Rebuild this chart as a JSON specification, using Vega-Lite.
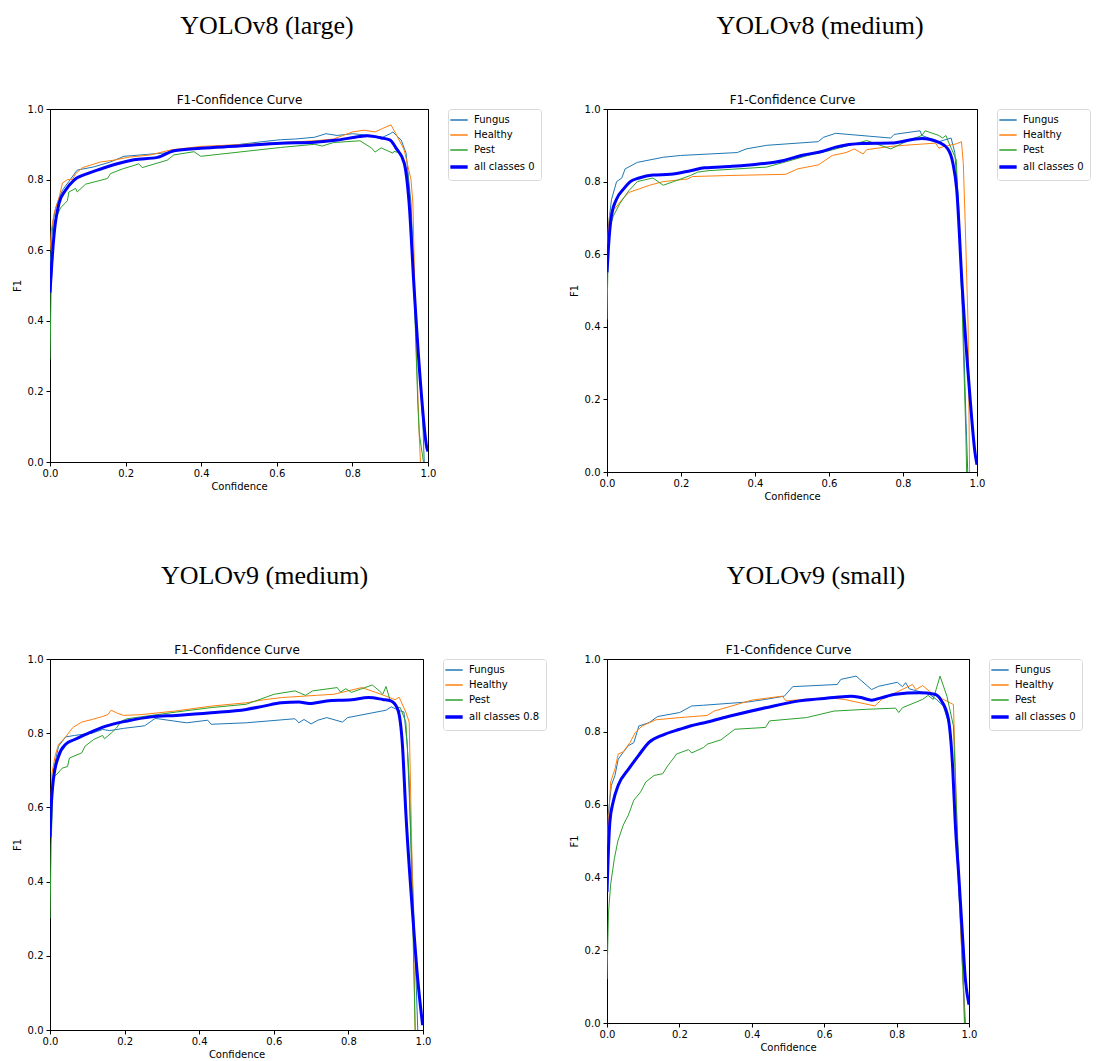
{
  "$schema": "https://vega.github.io/schema/vega-lite/v6.json",
  "background": "white",
  "padding": {"left": 11, "top": 12, "right": 0, "bottom": 0},
  "columns": 2,
  "spacing": {"row": 60, "column": 21},
  "resolve": {"scale": {"color": "independent"}},
  "datasets": {
    "a": [
      {"s":"Fungus","x":0,"y":0.55},{"s":"Fungus","x":0.004,"y":0.62},{"s":"Fungus","x":0.008,"y":0.68},{"s":"Fungus","x":0.015,"y":0.72},{"s":"Fungus","x":0.025,"y":0.75},{"s":"Fungus","x":0.033,"y":0.77},{"s":"Fungus","x":0.05,"y":0.795},{"s":"Fungus","x":0.072,"y":0.827},{"s":"Fungus","x":0.116,"y":0.836},{"s":"Fungus","x":0.16,"y":0.85},{"s":"Fungus","x":0.196,"y":0.866},{"s":"Fungus","x":0.31,"y":0.876},{"s":"Fungus","x":0.328,"y":0.884},{"s":"Fungus","x":0.45,"y":0.893},{"s":"Fungus","x":0.566,"y":0.908},{"s":"Fungus","x":0.61,"y":0.913},{"s":"Fungus","x":0.65,"y":0.915},{"s":"Fungus","x":0.7,"y":0.92},{"s":"Fungus","x":0.73,"y":0.93},{"s":"Fungus","x":0.76,"y":0.925},{"s":"Fungus","x":0.8,"y":0.93},{"s":"Fungus","x":0.85,"y":0.925},{"s":"Fungus","x":0.88,"y":0.92},{"s":"Fungus","x":0.9,"y":0.93},{"s":"Fungus","x":0.907,"y":0.935},{"s":"Fungus","x":0.929,"y":0.912},{"s":"Fungus","x":0.942,"y":0.875},{"s":"Fungus","x":0.955,"y":0.734},{"s":"Fungus","x":0.968,"y":0.4},{"s":"Fungus","x":0.986,"y":0.12},{"s":"Fungus","x":0.99,"y":0.0},
      {"s":"Healthy","x":0,"y":0.6},{"s":"Healthy","x":0.004,"y":0.66},{"s":"Healthy","x":0.011,"y":0.705},{"s":"Healthy","x":0.024,"y":0.75},{"s":"Healthy","x":0.033,"y":0.79},{"s":"Healthy","x":0.046,"y":0.8},{"s":"Healthy","x":0.059,"y":0.8},{"s":"Healthy","x":0.068,"y":0.817},{"s":"Healthy","x":0.086,"y":0.834},{"s":"Healthy","x":0.134,"y":0.85},{"s":"Healthy","x":0.169,"y":0.855},{"s":"Healthy","x":0.205,"y":0.863},{"s":"Healthy","x":0.266,"y":0.87},{"s":"Healthy","x":0.319,"y":0.884},{"s":"Healthy","x":0.399,"y":0.894},{"s":"Healthy","x":0.575,"y":0.903},{"s":"Healthy","x":0.7,"y":0.91},{"s":"Healthy","x":0.75,"y":0.915},{"s":"Healthy","x":0.8,"y":0.935},{"s":"Healthy","x":0.83,"y":0.94},{"s":"Healthy","x":0.86,"y":0.935},{"s":"Healthy","x":0.88,"y":0.945},{"s":"Healthy","x":0.902,"y":0.955},{"s":"Healthy","x":0.915,"y":0.93},{"s":"Healthy","x":0.937,"y":0.884},{"s":"Healthy","x":0.955,"y":0.8},{"s":"Healthy","x":0.96,"y":0.734},{"s":"Healthy","x":0.968,"y":0.354},{"s":"Healthy","x":0.977,"y":0.07},{"s":"Healthy","x":0.98,"y":0.0},
      {"s":"Pest","x":0,"y":0.29},{"s":"Pest","x":0.003,"y":0.5},{"s":"Pest","x":0.006,"y":0.55},{"s":"Pest","x":0.011,"y":0.68},{"s":"Pest","x":0.028,"y":0.72},{"s":"Pest","x":0.046,"y":0.74},{"s":"Pest","x":0.05,"y":0.765},{"s":"Pest","x":0.068,"y":0.775},{"s":"Pest","x":0.072,"y":0.765},{"s":"Pest","x":0.094,"y":0.787},{"s":"Pest","x":0.152,"y":0.803},{"s":"Pest","x":0.16,"y":0.817},{"s":"Pest","x":0.191,"y":0.83},{"s":"Pest","x":0.222,"y":0.84},{"s":"Pest","x":0.235,"y":0.845},{"s":"Pest","x":0.244,"y":0.834},{"s":"Pest","x":0.31,"y":0.855},{"s":"Pest","x":0.328,"y":0.87},{"s":"Pest","x":0.381,"y":0.879},{"s":"Pest","x":0.399,"y":0.866},{"s":"Pest","x":0.61,"y":0.891},{"s":"Pest","x":0.7,"y":0.9},{"s":"Pest","x":0.72,"y":0.895},{"s":"Pest","x":0.75,"y":0.905},{"s":"Pest","x":0.82,"y":0.91},{"s":"Pest","x":0.85,"y":0.89},{"s":"Pest","x":0.86,"y":0.878},{"s":"Pest","x":0.876,"y":0.89},{"s":"Pest","x":0.907,"y":0.875},{"s":"Pest","x":0.91,"y":0.88},{"s":"Pest","x":0.929,"y":0.875},{"s":"Pest","x":0.946,"y":0.819},{"s":"Pest","x":0.96,"y":0.59},{"s":"Pest","x":0.973,"y":0.167},{"s":"Pest","x":0.977,"y":0.08},{"s":"Pest","x":0.988,"y":0.0},
      {"s":"all classes 0.92 at 0.828","x":0,"y":0.48},{"s":"all classes 0.92 at 0.828","x":0.004,"y":0.55},{"s":"all classes 0.92 at 0.828","x":0.011,"y":0.647},{"s":"all classes 0.92 at 0.828","x":0.024,"y":0.733},{"s":"all classes 0.92 at 0.828","x":0.041,"y":0.77},{"s":"all classes 0.92 at 0.828","x":0.063,"y":0.798},{"s":"all classes 0.92 at 0.828","x":0.099,"y":0.817},{"s":"all classes 0.92 at 0.828","x":0.134,"y":0.83},{"s":"all classes 0.92 at 0.828","x":0.178,"y":0.845},{"s":"all classes 0.92 at 0.828","x":0.222,"y":0.856},{"s":"all classes 0.92 at 0.828","x":0.284,"y":0.863},{"s":"all classes 0.92 at 0.828","x":0.328,"y":0.882},{"s":"all classes 0.92 at 0.828","x":0.399,"y":0.889},{"s":"all classes 0.92 at 0.828","x":0.5,"y":0.895},{"s":"all classes 0.92 at 0.828","x":0.61,"y":0.903},{"s":"all classes 0.92 at 0.828","x":0.7,"y":0.906},{"s":"all classes 0.92 at 0.828","x":0.76,"y":0.912},{"s":"all classes 0.92 at 0.828","x":0.82,"y":0.922},{"s":"all classes 0.92 at 0.828","x":0.84,"y":0.924},{"s":"all classes 0.92 at 0.828","x":0.876,"y":0.918},{"s":"all classes 0.92 at 0.828","x":0.9,"y":0.912},{"s":"all classes 0.92 at 0.828","x":0.915,"y":0.89},{"s":"all classes 0.92 at 0.828","x":0.937,"y":0.847},{"s":"all classes 0.92 at 0.828","x":0.95,"y":0.734},{"s":"all classes 0.92 at 0.828","x":0.963,"y":0.496},{"s":"all classes 0.92 at 0.828","x":0.981,"y":0.212},{"s":"all classes 0.92 at 0.828","x":0.997,"y":0.04},{"s":"all classes 0.92 at 0.828","x":1.0,"y":0.03}
    ],
    "b": [
      {"s":"Fungus","x":0,"y":0.55},{"s":"Fungus","x":0.003,"y":0.67},{"s":"Fungus","x":0.012,"y":0.75},{"s":"Fungus","x":0.026,"y":0.8},{"s":"Fungus","x":0.04,"y":0.81},{"s":"Fungus","x":0.049,"y":0.835},{"s":"Fungus","x":0.082,"y":0.853},{"s":"Fungus","x":0.152,"y":0.867},{"s":"Fungus","x":0.199,"y":0.872},{"s":"Fungus","x":0.352,"y":0.88},{"s":"Fungus","x":0.376,"y":0.89},{"s":"Fungus","x":0.432,"y":0.9},{"s":"Fungus","x":0.571,"y":0.91},{"s":"Fungus","x":0.585,"y":0.922},{"s":"Fungus","x":0.618,"y":0.933},{"s":"Fungus","x":0.767,"y":0.92},{"s":"Fungus","x":0.776,"y":0.93},{"s":"Fungus","x":0.846,"y":0.94},{"s":"Fungus","x":0.851,"y":0.927},{"s":"Fungus","x":0.897,"y":0.91},{"s":"Fungus","x":0.93,"y":0.92},{"s":"Fungus","x":0.94,"y":0.88},{"s":"Fungus","x":0.95,"y":0.74},{"s":"Fungus","x":0.96,"y":0.5},{"s":"Fungus","x":0.97,"y":0.15},{"s":"Fungus","x":0.975,"y":0.0},
      {"s":"Healthy","x":0,"y":0.6},{"s":"Healthy","x":0.007,"y":0.71},{"s":"Healthy","x":0.021,"y":0.725},{"s":"Healthy","x":0.04,"y":0.75},{"s":"Healthy","x":0.059,"y":0.77},{"s":"Healthy","x":0.087,"y":0.78},{"s":"Healthy","x":0.115,"y":0.79},{"s":"Healthy","x":0.152,"y":0.8},{"s":"Healthy","x":0.217,"y":0.807},{"s":"Healthy","x":0.231,"y":0.814},{"s":"Healthy","x":0.338,"y":0.817},{"s":"Healthy","x":0.483,"y":0.82},{"s":"Healthy","x":0.515,"y":0.835},{"s":"Healthy","x":0.571,"y":0.846},{"s":"Healthy","x":0.609,"y":0.872},{"s":"Healthy","x":0.646,"y":0.88},{"s":"Healthy","x":0.669,"y":0.89},{"s":"Healthy","x":0.692,"y":0.876},{"s":"Healthy","x":0.702,"y":0.888},{"s":"Healthy","x":0.767,"y":0.897},{"s":"Healthy","x":0.804,"y":0.9},{"s":"Healthy","x":0.888,"y":0.906},{"s":"Healthy","x":0.897,"y":0.892},{"s":"Healthy","x":0.911,"y":0.897},{"s":"Healthy","x":0.944,"y":0.904},{"s":"Healthy","x":0.958,"y":0.91},{"s":"Healthy","x":0.963,"y":0.85},{"s":"Healthy","x":0.968,"y":0.69},{"s":"Healthy","x":0.976,"y":0.4},{"s":"Healthy","x":0.98,"y":0.0},
      {"s":"Pest","x":0,"y":0.42},{"s":"Pest","x":0.003,"y":0.6},{"s":"Pest","x":0.007,"y":0.67},{"s":"Pest","x":0.017,"y":0.705},{"s":"Pest","x":0.035,"y":0.74},{"s":"Pest","x":0.059,"y":0.775},{"s":"Pest","x":0.082,"y":0.8},{"s":"Pest","x":0.124,"y":0.81},{"s":"Pest","x":0.152,"y":0.79},{"s":"Pest","x":0.18,"y":0.8},{"s":"Pest","x":0.226,"y":0.817},{"s":"Pest","x":0.245,"y":0.826},{"s":"Pest","x":0.273,"y":0.83},{"s":"Pest","x":0.431,"y":0.84},{"s":"Pest","x":0.478,"y":0.853},{"s":"Pest","x":0.543,"y":0.872},{"s":"Pest","x":0.6,"y":0.885},{"s":"Pest","x":0.702,"y":0.913},{"s":"Pest","x":0.767,"y":0.89},{"s":"Pest","x":0.814,"y":0.913},{"s":"Pest","x":0.851,"y":0.927},{"s":"Pest","x":0.86,"y":0.94},{"s":"Pest","x":0.897,"y":0.927},{"s":"Pest","x":0.907,"y":0.92},{"s":"Pest","x":0.916,"y":0.927},{"s":"Pest","x":0.925,"y":0.904},{"s":"Pest","x":0.944,"y":0.86},{"s":"Pest","x":0.95,"y":0.72},{"s":"Pest","x":0.96,"y":0.45},{"s":"Pest","x":0.97,"y":0.1},{"s":"Pest","x":0.972,"y":0.0},
      {"s":"all classes 0.92 at 0.852","x":0,"y":0.55},{"s":"all classes 0.92 at 0.852","x":0.004,"y":0.62},{"s":"all classes 0.92 at 0.852","x":0.012,"y":0.706},{"s":"all classes 0.92 at 0.852","x":0.026,"y":0.752},{"s":"all classes 0.92 at 0.852","x":0.045,"y":0.78},{"s":"all classes 0.92 at 0.852","x":0.063,"y":0.8},{"s":"all classes 0.92 at 0.852","x":0.087,"y":0.81},{"s":"all classes 0.92 at 0.852","x":0.124,"y":0.818},{"s":"all classes 0.92 at 0.852","x":0.171,"y":0.82},{"s":"all classes 0.92 at 0.852","x":0.226,"y":0.83},{"s":"all classes 0.92 at 0.852","x":0.264,"y":0.838},{"s":"all classes 0.92 at 0.852","x":0.338,"y":0.842},{"s":"all classes 0.92 at 0.852","x":0.385,"y":0.846},{"s":"all classes 0.92 at 0.852","x":0.478,"y":0.858},{"s":"all classes 0.92 at 0.852","x":0.525,"y":0.872},{"s":"all classes 0.92 at 0.852","x":0.581,"y":0.883},{"s":"all classes 0.92 at 0.852","x":0.618,"y":0.895},{"s":"all classes 0.92 at 0.852","x":0.692,"y":0.905},{"s":"all classes 0.92 at 0.852","x":0.767,"y":0.906},{"s":"all classes 0.92 at 0.852","x":0.851,"y":0.919},{"s":"all classes 0.92 at 0.852","x":0.897,"y":0.908},{"s":"all classes 0.92 at 0.852","x":0.921,"y":0.89},{"s":"all classes 0.92 at 0.852","x":0.935,"y":0.85},{"s":"all classes 0.92 at 0.852","x":0.945,"y":0.78},{"s":"all classes 0.92 at 0.852","x":0.96,"y":0.51},{"s":"all classes 0.92 at 0.852","x":0.98,"y":0.22},{"s":"all classes 0.92 at 0.852","x":0.995,"y":0.05},{"s":"all classes 0.92 at 0.852","x":1.0,"y":0.02}
    ],
    "c": [
      {"s":"Fungus","x":0,"y":0.52},{"s":"Fungus","x":0.003,"y":0.6},{"s":"Fungus","x":0.009,"y":0.7},{"s":"Fungus","x":0.023,"y":0.765},{"s":"Fungus","x":0.042,"y":0.79},{"s":"Fungus","x":0.066,"y":0.794},{"s":"Fungus","x":0.113,"y":0.8},{"s":"Fungus","x":0.141,"y":0.81},{"s":"Fungus","x":0.16,"y":0.807},{"s":"Fungus","x":0.197,"y":0.813},{"s":"Fungus","x":0.254,"y":0.82},{"s":"Fungus","x":0.282,"y":0.84},{"s":"Fungus","x":0.366,"y":0.828},{"s":"Fungus","x":0.423,"y":0.835},{"s":"Fungus","x":0.432,"y":0.824},{"s":"Fungus","x":0.526,"y":0.828},{"s":"Fungus","x":0.657,"y":0.839},{"s":"Fungus","x":0.667,"y":0.828},{"s":"Fungus","x":0.681,"y":0.837},{"s":"Fungus","x":0.7,"y":0.825},{"s":"Fungus","x":0.718,"y":0.835},{"s":"Fungus","x":0.742,"y":0.842},{"s":"Fungus","x":0.784,"y":0.83},{"s":"Fungus","x":0.798,"y":0.842},{"s":"Fungus","x":0.901,"y":0.862},{"s":"Fungus","x":0.915,"y":0.871},{"s":"Fungus","x":0.939,"y":0.86},{"s":"Fungus","x":0.949,"y":0.857},{"s":"Fungus","x":0.958,"y":0.766},{"s":"Fungus","x":0.972,"y":0.41},{"s":"Fungus","x":0.986,"y":0.0},
      {"s":"Healthy","x":0,"y":0.54},{"s":"Healthy","x":0.005,"y":0.69},{"s":"Healthy","x":0.014,"y":0.74},{"s":"Healthy","x":0.023,"y":0.77},{"s":"Healthy","x":0.042,"y":0.79},{"s":"Healthy","x":0.061,"y":0.815},{"s":"Healthy","x":0.085,"y":0.83},{"s":"Healthy","x":0.113,"y":0.837},{"s":"Healthy","x":0.141,"y":0.845},{"s":"Healthy","x":0.155,"y":0.85},{"s":"Healthy","x":0.164,"y":0.862},{"s":"Healthy","x":0.178,"y":0.855},{"s":"Healthy","x":0.197,"y":0.848},{"s":"Healthy","x":0.244,"y":0.85},{"s":"Healthy","x":0.338,"y":0.86},{"s":"Healthy","x":0.432,"y":0.873},{"s":"Healthy","x":0.526,"y":0.882},{"s":"Healthy","x":0.573,"y":0.89},{"s":"Healthy","x":0.62,"y":0.896},{"s":"Healthy","x":0.714,"y":0.902},{"s":"Healthy","x":0.761,"y":0.905},{"s":"Healthy","x":0.836,"y":0.923},{"s":"Healthy","x":0.873,"y":0.91},{"s":"Healthy","x":0.911,"y":0.896},{"s":"Healthy","x":0.925,"y":0.89},{"s":"Healthy","x":0.936,"y":0.897},{"s":"Healthy","x":0.954,"y":0.857},{"s":"Healthy","x":0.963,"y":0.83},{"s":"Healthy","x":0.968,"y":0.586},{"s":"Healthy","x":0.975,"y":0.225},{"s":"Healthy","x":0.979,"y":0.0},
      {"s":"Pest","x":0,"y":0.3},{"s":"Pest","x":0.003,"y":0.5},{"s":"Pest","x":0.009,"y":0.68},{"s":"Pest","x":0.019,"y":0.69},{"s":"Pest","x":0.033,"y":0.706},{"s":"Pest","x":0.047,"y":0.71},{"s":"Pest","x":0.052,"y":0.733},{"s":"Pest","x":0.085,"y":0.747},{"s":"Pest","x":0.094,"y":0.765},{"s":"Pest","x":0.117,"y":0.783},{"s":"Pest","x":0.141,"y":0.794},{"s":"Pest","x":0.146,"y":0.785},{"s":"Pest","x":0.164,"y":0.8},{"s":"Pest","x":0.178,"y":0.814},{"s":"Pest","x":0.192,"y":0.833},{"s":"Pest","x":0.207,"y":0.839},{"s":"Pest","x":0.338,"y":0.857},{"s":"Pest","x":0.432,"y":0.869},{"s":"Pest","x":0.526,"y":0.878},{"s":"Pest","x":0.601,"y":0.905},{"s":"Pest","x":0.657,"y":0.914},{"s":"Pest","x":0.685,"y":0.902},{"s":"Pest","x":0.704,"y":0.914},{"s":"Pest","x":0.77,"y":0.923},{"s":"Pest","x":0.779,"y":0.911},{"s":"Pest","x":0.793,"y":0.92},{"s":"Pest","x":0.808,"y":0.91},{"s":"Pest","x":0.864,"y":0.93},{"s":"Pest","x":0.883,"y":0.914},{"s":"Pest","x":0.892,"y":0.905},{"s":"Pest","x":0.901,"y":0.926},{"s":"Pest","x":0.911,"y":0.891},{"s":"Pest","x":0.928,"y":0.87},{"s":"Pest","x":0.939,"y":0.869},{"s":"Pest","x":0.954,"y":0.83},{"s":"Pest","x":0.963,"y":0.676},{"s":"Pest","x":0.972,"y":0.316},{"s":"Pest","x":0.979,"y":0.0},
      {"s":"all classes 0.89 at 0.855","x":0,"y":0.52},{"s":"all classes 0.89 at 0.855","x":0.003,"y":0.6},{"s":"all classes 0.89 at 0.855","x":0.009,"y":0.674},{"s":"all classes 0.89 at 0.855","x":0.023,"y":0.738},{"s":"all classes 0.89 at 0.855","x":0.042,"y":0.77},{"s":"all classes 0.89 at 0.855","x":0.066,"y":0.783},{"s":"all classes 0.89 at 0.855","x":0.103,"y":0.8},{"s":"all classes 0.89 at 0.855","x":0.15,"y":0.819},{"s":"all classes 0.89 at 0.855","x":0.207,"y":0.833},{"s":"all classes 0.89 at 0.855","x":0.272,"y":0.844},{"s":"all classes 0.89 at 0.855","x":0.338,"y":0.848},{"s":"all classes 0.89 at 0.855","x":0.432,"y":0.855},{"s":"all classes 0.89 at 0.855","x":0.526,"y":0.864},{"s":"all classes 0.89 at 0.855","x":0.573,"y":0.873},{"s":"all classes 0.89 at 0.855","x":0.62,"y":0.882},{"s":"all classes 0.89 at 0.855","x":0.667,"y":0.884},{"s":"all classes 0.89 at 0.855","x":0.695,"y":0.88},{"s":"all classes 0.89 at 0.855","x":0.742,"y":0.887},{"s":"all classes 0.89 at 0.855","x":0.808,"y":0.89},{"s":"all classes 0.89 at 0.855","x":0.854,"y":0.896},{"s":"all classes 0.89 at 0.855","x":0.892,"y":0.891},{"s":"all classes 0.89 at 0.855","x":0.914,"y":0.887},{"s":"all classes 0.89 at 0.855","x":0.932,"y":0.865},{"s":"all classes 0.89 at 0.855","x":0.945,"y":0.766},{"s":"all classes 0.89 at 0.855","x":0.954,"y":0.586},{"s":"all classes 0.89 at 0.855","x":0.972,"y":0.316},{"s":"all classes 0.89 at 0.855","x":0.986,"y":0.135},{"s":"all classes 0.89 at 0.855","x":0.999,"y":0.013}
    ],
    "d": [
      {"s":"Fungus","x":0,"y":0.42},{"s":"Fungus","x":0.003,"y":0.57},{"s":"Fungus","x":0.012,"y":0.653},{"s":"Fungus","x":0.022,"y":0.68},{"s":"Fungus","x":0.031,"y":0.725},{"s":"Fungus","x":0.045,"y":0.744},{"s":"Fungus","x":0.059,"y":0.762},{"s":"Fungus","x":0.074,"y":0.77},{"s":"Fungus","x":0.088,"y":0.816},{"s":"Fungus","x":0.116,"y":0.825},{"s":"Fungus","x":0.14,"y":0.842},{"s":"Fungus","x":0.201,"y":0.853},{"s":"Fungus","x":0.234,"y":0.871},{"s":"Fungus","x":0.267,"y":0.873},{"s":"Fungus","x":0.39,"y":0.882},{"s":"Fungus","x":0.438,"y":0.889},{"s":"Fungus","x":0.49,"y":0.898},{"s":"Fungus","x":0.513,"y":0.924},{"s":"Fungus","x":0.636,"y":0.93},{"s":"Fungus","x":0.646,"y":0.944},{"s":"Fungus","x":0.688,"y":0.953},{"s":"Fungus","x":0.731,"y":0.916},{"s":"Fungus","x":0.75,"y":0.925},{"s":"Fungus","x":0.802,"y":0.936},{"s":"Fungus","x":0.816,"y":0.924},{"s":"Fungus","x":0.825,"y":0.935},{"s":"Fungus","x":0.835,"y":0.918},{"s":"Fungus","x":0.891,"y":0.903},{"s":"Fungus","x":0.91,"y":0.889},{"s":"Fungus","x":0.929,"y":0.871},{"s":"Fungus","x":0.945,"y":0.82},{"s":"Fungus","x":0.955,"y":0.7},{"s":"Fungus","x":0.97,"y":0.4},{"s":"Fungus","x":0.985,"y":0.1},{"s":"Fungus","x":0.99,"y":0.0},
      {"s":"Healthy","x":0,"y":0.45},{"s":"Healthy","x":0.004,"y":0.55},{"s":"Healthy","x":0.01,"y":0.662},{"s":"Healthy","x":0.022,"y":0.698},{"s":"Healthy","x":0.031,"y":0.739},{"s":"Healthy","x":0.045,"y":0.745},{"s":"Healthy","x":0.064,"y":0.771},{"s":"Healthy","x":0.078,"y":0.798},{"s":"Healthy","x":0.097,"y":0.816},{"s":"Healthy","x":0.135,"y":0.833},{"s":"Healthy","x":0.201,"y":0.839},{"s":"Healthy","x":0.277,"y":0.845},{"s":"Healthy","x":0.296,"y":0.857},{"s":"Healthy","x":0.4,"y":0.887},{"s":"Healthy","x":0.485,"y":0.898},{"s":"Healthy","x":0.494,"y":0.885},{"s":"Healthy","x":0.608,"y":0.894},{"s":"Healthy","x":0.655,"y":0.889},{"s":"Healthy","x":0.74,"y":0.871},{"s":"Healthy","x":0.759,"y":0.889},{"s":"Healthy","x":0.844,"y":0.93},{"s":"Healthy","x":0.853,"y":0.916},{"s":"Healthy","x":0.872,"y":0.927},{"s":"Healthy","x":0.901,"y":0.903},{"s":"Healthy","x":0.957,"y":0.875},{"s":"Healthy","x":0.965,"y":0.6},{"s":"Healthy","x":0.975,"y":0.3},{"s":"Healthy","x":0.986,"y":0.065},{"s":"Healthy","x":0.987,"y":0.0},
      {"s":"Pest","x":0,"y":0.12},{"s":"Pest","x":0.004,"y":0.3},{"s":"Pest","x":0.01,"y":0.38},{"s":"Pest","x":0.02,"y":0.45},{"s":"Pest","x":0.03,"y":0.5},{"s":"Pest","x":0.045,"y":0.544},{"s":"Pest","x":0.059,"y":0.571},{"s":"Pest","x":0.074,"y":0.612},{"s":"Pest","x":0.093,"y":0.635},{"s":"Pest","x":0.107,"y":0.662},{"s":"Pest","x":0.13,"y":0.68},{"s":"Pest","x":0.154,"y":0.685},{"s":"Pest","x":0.168,"y":0.707},{"s":"Pest","x":0.182,"y":0.725},{"s":"Pest","x":0.192,"y":0.739},{"s":"Pest","x":0.206,"y":0.744},{"s":"Pest","x":0.225,"y":0.751},{"s":"Pest","x":0.234,"y":0.742},{"s":"Pest","x":0.267,"y":0.757},{"s":"Pest","x":0.277,"y":0.766},{"s":"Pest","x":0.315,"y":0.778},{"s":"Pest","x":0.353,"y":0.807},{"s":"Pest","x":0.438,"y":0.812},{"s":"Pest","x":0.449,"y":0.83},{"s":"Pest","x":0.551,"y":0.839},{"s":"Pest","x":0.627,"y":0.857},{"s":"Pest","x":0.721,"y":0.862},{"s":"Pest","x":0.797,"y":0.865},{"s":"Pest","x":0.806,"y":0.853},{"s":"Pest","x":0.816,"y":0.866},{"s":"Pest","x":0.872,"y":0.889},{"s":"Pest","x":0.887,"y":0.9},{"s":"Pest","x":0.901,"y":0.889},{"s":"Pest","x":0.92,"y":0.953},{"s":"Pest","x":0.939,"y":0.898},{"s":"Pest","x":0.957,"y":0.816},{"s":"Pest","x":0.965,"y":0.6},{"s":"Pest","x":0.975,"y":0.35},{"s":"Pest","x":0.984,"y":0.1},{"s":"Pest","x":0.988,"y":0.0},
      {"s":"all classes 0.91 at 0.863","x":0,"y":0.36},{"s":"all classes 0.91 at 0.863","x":0.003,"y":0.45},{"s":"all classes 0.91 at 0.863","x":0.008,"y":0.553},{"s":"all classes 0.91 at 0.863","x":0.017,"y":0.607},{"s":"all classes 0.91 at 0.863","x":0.031,"y":0.653},{"s":"all classes 0.91 at 0.863","x":0.06,"y":0.698},{"s":"all classes 0.91 at 0.863","x":0.088,"y":0.736},{"s":"all classes 0.91 at 0.863","x":0.116,"y":0.771},{"s":"all classes 0.91 at 0.863","x":0.154,"y":0.791},{"s":"all classes 0.91 at 0.863","x":0.201,"y":0.807},{"s":"all classes 0.91 at 0.863","x":0.23,"y":0.816},{"s":"all classes 0.91 at 0.863","x":0.277,"y":0.827},{"s":"all classes 0.91 at 0.863","x":0.343,"y":0.844},{"s":"all classes 0.91 at 0.863","x":0.438,"y":0.866},{"s":"all classes 0.91 at 0.863","x":0.532,"y":0.885},{"s":"all classes 0.91 at 0.863","x":0.627,"y":0.894},{"s":"all classes 0.91 at 0.863","x":0.674,"y":0.898},{"s":"all classes 0.91 at 0.863","x":0.702,"y":0.894},{"s":"all classes 0.91 at 0.863","x":0.731,"y":0.887},{"s":"all classes 0.91 at 0.863","x":0.759,"y":0.894},{"s":"all classes 0.91 at 0.863","x":0.797,"y":0.903},{"s":"all classes 0.91 at 0.863","x":0.863,"y":0.907},{"s":"all classes 0.91 at 0.863","x":0.905,"y":0.903},{"s":"all classes 0.91 at 0.863","x":0.924,"y":0.885},{"s":"all classes 0.91 at 0.863","x":0.943,"y":0.835},{"s":"all classes 0.91 at 0.863","x":0.955,"y":0.7},{"s":"all classes 0.91 at 0.863","x":0.962,"y":0.55},{"s":"all classes 0.91 at 0.863","x":0.972,"y":0.4},{"s":"all classes 0.91 at 0.863","x":0.981,"y":0.256},{"s":"all classes 0.91 at 0.863","x":0.99,"y":0.12},{"s":"all classes 0.91 at 0.863","x":1.0,"y":0.05}
    ]
  },
  "concat": [
    {
      "width": 378, "height": 353,
      "title": {"text": "YOLOv8 (large)", "dx": 28},
      "data": {"name": "a"},
      "resolve": {"axis": {"x": "independent"}},
      "encoding": {
        "y": {"field": "y", "type": "quantitative", "scale": {"domain": [0, 1]}, "axis": {"title": "F1", "values": [0, 0.2, 0.4, 0.6, 0.8, 1.0]}},
        "color": {"field": "s", "type": "nominal", "scale": {"domain": ["Fungus", "Healthy", "Pest", "all classes 0.92 at 0.828"], "range": ["#1f77b4", "#ff7f0e", "#2ca02c", "#0000ff"]}, "legend": {"title": null, "labelExpr": "slice(datum.label, 0, 13)", "encode": {"symbols": {"update": {"strokeWidth": {"signal": "datum.index === 3 ? 3.5 : 1.5"}}}}}}
      },
      "layer": [
        {"transform": [{"filter": {"field": "s", "oneOf": ["Fungus", "Healthy", "Pest"]}}],
         "mark": {"type": "line", "clip": true, "strokeWidth": 1},
         "encoding": {"x": {"field": "x", "type": "quantitative", "scale": {"domain": [0, 1]}, "axis": {"title": "Confidence", "orient": "bottom", "values": [0, 0.2, 0.4, 0.6, 0.8, 1.0]}}}},
        {"transform": [{"filter": {"field": "s", "oneOf": ["all classes 0.92 at 0.828"]}}],
         "mark": {"type": "line", "clip": true, "strokeWidth": 3, "interpolate": "monotone"},
         "encoding": {"x": {"field": "x", "type": "quantitative", "scale": {"domain": [0, 1]}, "axis": {"title": "F1-Confidence Curve", "orient": "top", "labels": false, "ticks": false, "titleFontSize": 12, "titlePadding": 3}}}}
      ]
    },
    {
      "width": 370, "height": 363,
      "title": {"text": "YOLOv8 (medium)", "dx": 28},
      "data": {"name": "b"},
      "resolve": {"axis": {"x": "independent"}},
      "encoding": {
        "y": {"field": "y", "type": "quantitative", "scale": {"domain": [0, 1]}, "axis": {"title": "F1", "values": [0, 0.2, 0.4, 0.6, 0.8, 1.0]}},
        "color": {"field": "s", "type": "nominal", "scale": {"domain": ["Fungus", "Healthy", "Pest", "all classes 0.92 at 0.852"], "range": ["#1f77b4", "#ff7f0e", "#2ca02c", "#0000ff"]}, "legend": {"title": null, "labelExpr": "slice(datum.label, 0, 13)", "encode": {"symbols": {"update": {"strokeWidth": {"signal": "datum.index === 3 ? 3.5 : 1.5"}}}}}}
      },
      "layer": [
        {"transform": [{"filter": {"field": "s", "oneOf": ["Fungus", "Healthy", "Pest"]}}],
         "mark": {"type": "line", "clip": true, "strokeWidth": 1},
         "encoding": {"x": {"field": "x", "type": "quantitative", "scale": {"domain": [0, 1]}, "axis": {"title": "Confidence", "orient": "bottom", "values": [0, 0.2, 0.4, 0.6, 0.8, 1.0]}}}},
        {"transform": [{"filter": {"field": "s", "oneOf": ["all classes 0.92 at 0.852"]}}],
         "mark": {"type": "line", "clip": true, "strokeWidth": 3, "interpolate": "monotone"},
         "encoding": {"x": {"field": "x", "type": "quantitative", "scale": {"domain": [0, 1]}, "axis": {"title": "F1-Confidence Curve", "orient": "top", "labels": false, "ticks": false, "titleFontSize": 12, "titlePadding": 3}}}}
      ]
    },
    {
      "width": 373, "height": 371,
      "title": {"text": "YOLOv9 (medium)", "dx": 28},
      "data": {"name": "c"},
      "resolve": {"axis": {"x": "independent"}},
      "encoding": {
        "y": {"field": "y", "type": "quantitative", "scale": {"domain": [0, 1]}, "axis": {"title": "F1", "values": [0, 0.2, 0.4, 0.6, 0.8, 1.0]}},
        "color": {"field": "s", "type": "nominal", "scale": {"domain": ["Fungus", "Healthy", "Pest", "all classes 0.89 at 0.855"], "range": ["#1f77b4", "#ff7f0e", "#2ca02c", "#0000ff"]}, "legend": {"title": null, "labelExpr": "slice(datum.label, 0, 15)", "encode": {"symbols": {"update": {"strokeWidth": {"signal": "datum.index === 3 ? 3.5 : 1.5"}}}}}}
      },
      "layer": [
        {"transform": [{"filter": {"field": "s", "oneOf": ["Fungus", "Healthy", "Pest"]}}],
         "mark": {"type": "line", "clip": true, "strokeWidth": 1},
         "encoding": {"x": {"field": "x", "type": "quantitative", "scale": {"domain": [0, 1]}, "axis": {"title": "Confidence", "orient": "bottom", "values": [0, 0.2, 0.4, 0.6, 0.8, 1.0]}}}},
        {"transform": [{"filter": {"field": "s", "oneOf": ["all classes 0.89 at 0.855"]}}],
         "mark": {"type": "line", "clip": true, "strokeWidth": 3, "interpolate": "monotone"},
         "encoding": {"x": {"field": "x", "type": "quantitative", "scale": {"domain": [0, 1]}, "axis": {"title": "F1-Confidence Curve", "orient": "top", "labels": false, "ticks": false, "titleFontSize": 12, "titlePadding": 3}}}}
      ]
    },
    {
      "width": 362, "height": 364,
      "title": {"text": "YOLOv9 (small)", "dx": 28},
      "data": {"name": "d"},
      "resolve": {"axis": {"x": "independent"}},
      "encoding": {
        "y": {"field": "y", "type": "quantitative", "scale": {"domain": [0, 1]}, "axis": {"title": "F1", "values": [0, 0.2, 0.4, 0.6, 0.8, 1.0]}},
        "color": {"field": "s", "type": "nominal", "scale": {"domain": ["Fungus", "Healthy", "Pest", "all classes 0.91 at 0.863"], "range": ["#1f77b4", "#ff7f0e", "#2ca02c", "#0000ff"]}, "legend": {"title": null, "labelExpr": "slice(datum.label, 0, 13)", "encode": {"symbols": {"update": {"strokeWidth": {"signal": "datum.index === 3 ? 3.5 : 1.5"}}}}}}
      },
      "layer": [
        {"transform": [{"filter": {"field": "s", "oneOf": ["Fungus", "Healthy", "Pest"]}}],
         "mark": {"type": "line", "clip": true, "strokeWidth": 1},
         "encoding": {"x": {"field": "x", "type": "quantitative", "scale": {"domain": [0, 1]}, "axis": {"title": "Confidence", "orient": "bottom", "values": [0, 0.2, 0.4, 0.6, 0.8, 1.0]}}}},
        {"transform": [{"filter": {"field": "s", "oneOf": ["all classes 0.91 at 0.863"]}}],
         "mark": {"type": "line", "clip": true, "strokeWidth": 3, "interpolate": "monotone"},
         "encoding": {"x": {"field": "x", "type": "quantitative", "scale": {"domain": [0, 1]}, "axis": {"title": "F1-Confidence Curve", "orient": "top", "labels": false, "ticks": false, "titleFontSize": 12, "titlePadding": 3}}}}
      ]
    }
  ],
  "config": {
    "font": "DejaVu Sans",
    "view": {"stroke": "#000", "strokeWidth": 1},
    "axis": {"grid": false, "domainColor": "#000", "tickColor": "#000", "labelColor": "#000", "titleColor": "#000", "labelFont": "DejaVu Sans", "titleFont": "DejaVu Sans", "labelFontSize": 10, "titleFontSize": 10, "titleFontWeight": "normal", "tickSize": 4, "labelPadding": 2, "labelFlush": false, "labelOverlap": false, "format": ".1f"},
    "axisX": {"titlePadding": 3},
    "axisY": {"titlePadding": 5, "labelPadding": 3},
    "title": {"font": "Liberation Serif", "fontSize": 26, "fontWeight": "normal", "color": "#000", "anchor": "middle", "frame": "group", "offset": 54},
    "legend": {"orient": "right", "offset": 20, "padding": 6, "strokeColor": "#d9d9d9", "cornerRadius": 3, "fillColor": "#ffffff", "symbolType": "stroke", "symbolSize": 300, "symbolStrokeWidth": 1.5, "labelFont": "DejaVu Sans", "labelFontSize": 10, "labelColor": "#000", "rowPadding": 5, "labelOffset": 10}
  }
}
